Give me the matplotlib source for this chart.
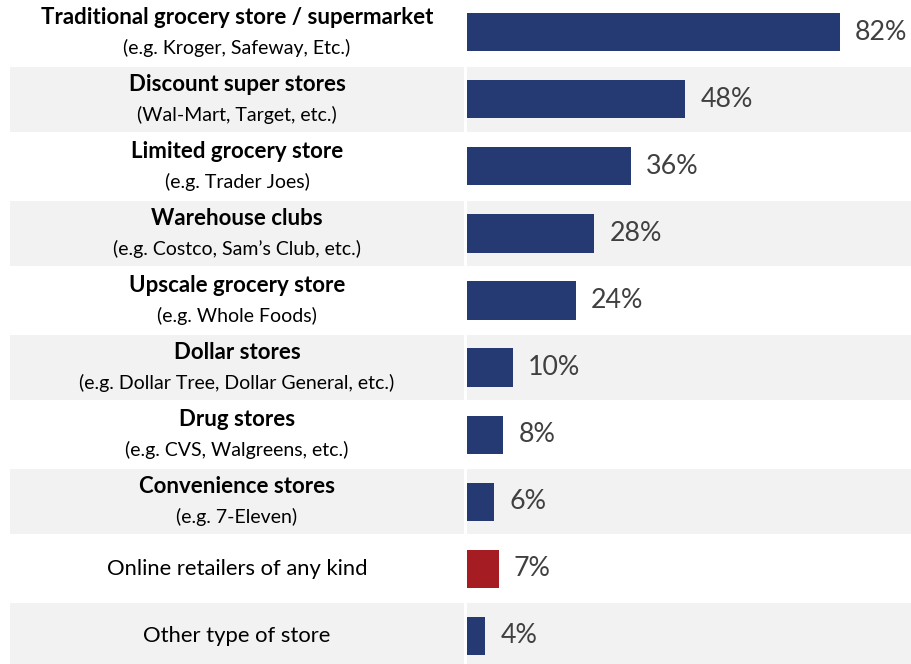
import matplotlib.pyplot as plt

# ---- data ----
titles = [
    "Traditional grocery store / supermarket",
    "Discount super stores",
    "Limited grocery store",
    "Warehouse clubs",
    "Upscale grocery store",
    "Dollar stores",
    "Drug stores",
    "Convenience stores",
    "Online retailers of any kind",
    "Other type of store",
]
subtitles = [
    "(e.g. Kroger, Safeway, Etc.)",
    "(Wal-Mart, Target, etc.)",
    "(e.g. Trader Joes)",
    "(e.g. Costco, Sam\u2019s Club, etc.)",
    "(e.g. Whole Foods)",
    "(e.g. Dollar Tree, Dollar General, etc.)",
    "(e.g. CVS, Walgreens, etc.)",
    "(e.g. 7-Eleven)",
    None,
    None,
]
values = [82, 48, 36, 28, 24, 10, 8, 6, 7, 4]
highlight = "Online retailers of any kind"

NAVY = "#253A73"
RED = "#A61C23"
BAND = "#F2F2F2"
FONT = ["Lato", "DejaVu Sans"]

W, H = 912, 664
fig = plt.figure(figsize=(W / 100, H / 100), dpi=100)

ylim = (9.42, -0.48)

# left label panel
axl = fig.add_axes([0, 0, 465 / W, 1])
axl.set_xlim(0, 465)
axl.set_ylim(*ylim)
axl.axis("off")

# bar panel
axb = fig.add_axes([467 / W, 0, 1 - 467 / W, 1])
axb.set_xlim(0, 97.8)
axb.set_ylim(*ylim)
axb.axis("off")

for i, (t, s, v) in enumerate(zip(titles, subtitles, values)):
    if i % 2 == 1:
        axl.axhspan(i - 0.485, i + 0.485, xmin=10 / 465, xmax=464 / 465,
                    color=BAND, lw=0, zorder=0)
        axb.axhspan(i - 0.485, i + 0.485, color=BAND, lw=0, zorder=0)
    if s is None:
        axl.text(237, i, t, ha="center", va="center", fontsize=15.8,
                 family=FONT, color="black")
    else:
        axl.text(237, i - 0.22, t, ha="center", va="center", fontsize=16,
                 family=FONT, fontweight="bold", color="black")
        axl.text(237, i + 0.23, s, ha="center", va="center", fontsize=14,
                 family=FONT, color="black")
    col = RED if t == highlight else NAVY
    axb.barh(i, v, height=0.57, color=col, zorder=2)
    axb.text(v + 3.3, i, f"{v}%", ha="left", va="center", fontsize=19.3,
             family=FONT, color="#404040")

fig.savefig("out.png", dpi=100)
